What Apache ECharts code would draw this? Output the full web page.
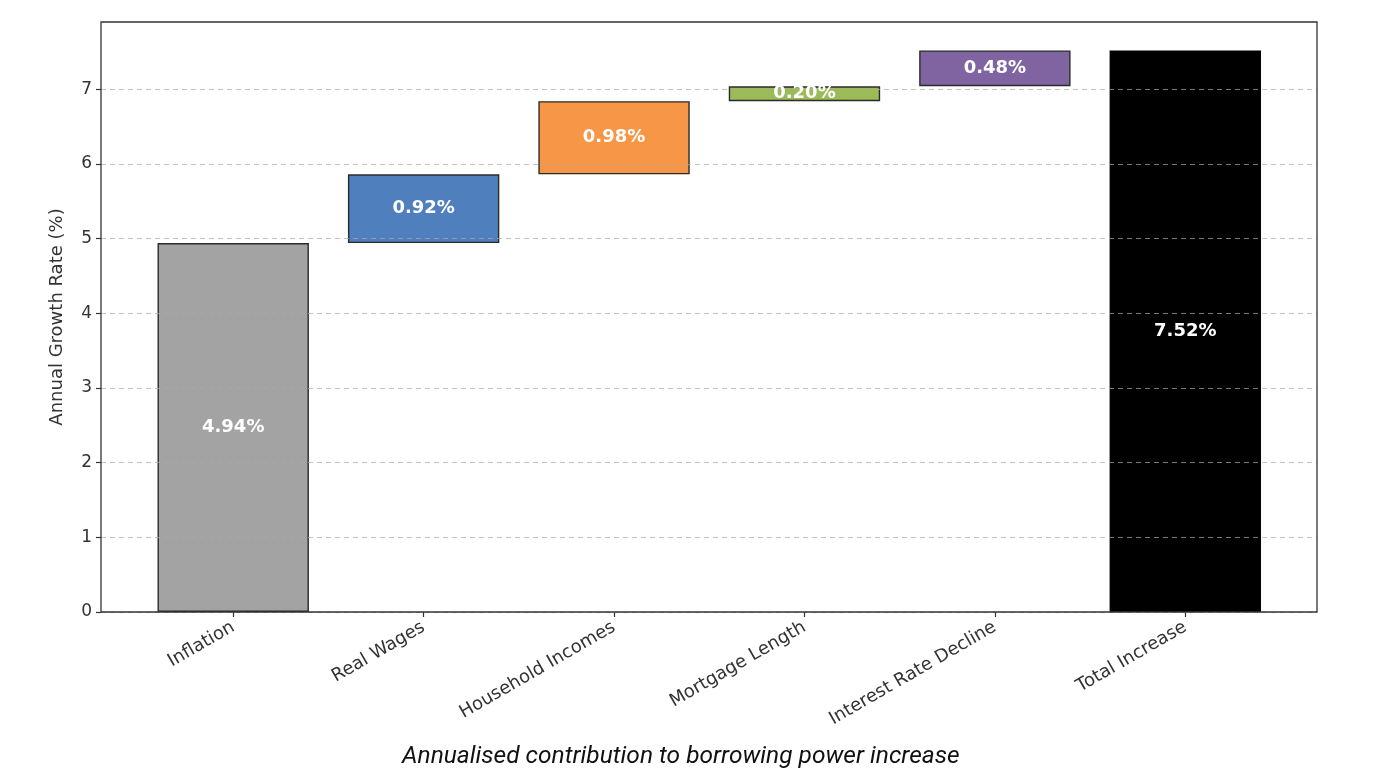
<!DOCTYPE html>
<html><head><meta charset="utf-8">
<script src="https://cdn.jsdelivr.net/npm/echarts@6/dist/echarts.min.js"></script>
<style>html,body{margin:0;padding:0;background:#fff}#c{width:1379px;height:781px}</style>
</head><body><div id="c"></div>
<script>
const categories = ['Inflation','Real Wages','Household Incomes','Mortgage Length','Interest Rate Decline','Total Increase'];
const baseValues = [0, 4.94, 5.86, 6.84, 7.04, 0];
const barValues = [4.94, 0.92, 0.98, 0.20, 0.48, 7.52];
const barColors = ['#a3a3a3','#4f80bd','#f79646','#9bbb59','#8064a2','#000000'];
const yTicks = [0,1,2,3,4,5,6,7];
const captionText = 'Annualised contribution to borrowing power increase';
const yName = 'Annual Growth Rate (%)';

const chart = echarts.init(document.getElementById('c'), null, {renderer:'canvas'});
const F = 'DejaVu Sans';
const YMAX = 7.9;
const option = {
  animation: false,
  backgroundColor: '#fff',
  grid: [
    {left: 101, right: 62, top: 22, bottom: 169, show: true, borderColor: '#333', borderWidth: 1.3, backgroundColor: 'transparent', z: 8},
    {left: 138, right: 98.5, top: 22, bottom: 169}
  ],
  xAxis: [
    {type: 'value', gridIndex: 0, min: 0, max: 1, show: false},
    {type: 'category', gridIndex: 1, data: categories,
     axisLine: {show: false},
     axisTick: {show: true, alignWithLabel: true, length: 5, lineStyle: {color: '#333', width: 1.2}},
     axisLabel: {rotate: 30, fontFamily: F, fontSize: 18, color: '#333', margin: 14, interval: 0}}
  ],
  yAxis: [
    {type: 'value', gridIndex: 0, min: 0, max: YMAX, interval: 1, z: 5,
     name: yName, nameLocation: 'middle', nameGap: 35, nameRotate: 90,
     nameTextStyle: {fontFamily: F, fontSize: 18, color: '#333'},
     axisLine: {show: false},
     axisTick: {show: true, length: 5, customValues: yTicks, lineStyle: {color: '#333', width: 1.2}},
     axisLabel: {fontFamily: F, fontSize: 17, color: '#333', margin: 9, customValues: yTicks},
     splitLine: {show: true, lineStyle: {color: 'rgba(170,170,170,0.7)', type: [5, 4], width: 1}}},
    {type: 'value', gridIndex: 1, min: 0, max: YMAX, show: false}
  ],
  series: [
    {type: 'bar', xAxisIndex: 1, yAxisIndex: 1, stack: 'w', data: baseValues,
     itemStyle: {color: 'transparent'}, barWidth: '79.5%', silent: true, z: 2},
    {type: 'bar', xAxisIndex: 1, yAxisIndex: 1, stack: 'w', barWidth: '79.5%', z: 2,
     data: barValues.map((v, i) => ({value: v, itemStyle: {color: barColors[i], borderColor: i === 5 ? '#000' : '#2b2b2b', borderWidth: 1.4}}))},
    {type: 'bar', xAxisIndex: 1, yAxisIndex: 1, stack: 'l', data: baseValues,
     itemStyle: {color: 'transparent'}, barWidth: '79.5%', barGap: '-100%', silent: true, z: 10},
    {type: 'bar', xAxisIndex: 1, yAxisIndex: 1, stack: 'l', barWidth: '79.5%', barGap: '-100%', z: 10,
     itemStyle: {color: 'transparent'},
     label: {show: true, position: 'inside', fontFamily: F, fontWeight: 'bold', fontSize: 18, color: '#fff',
       formatter: p => p.value.toFixed(2) + '%'},
     data: barValues}
  ],
  graphic: [
    {type: 'text', left: 402, top: 744,
     style: {text: captionText, fontFamily: 'Roboto', fontStyle: 'italic', fontSize: 24.5, fill: '#111'}}
  ]
};
chart.setOption(option);
</script></body></html>
